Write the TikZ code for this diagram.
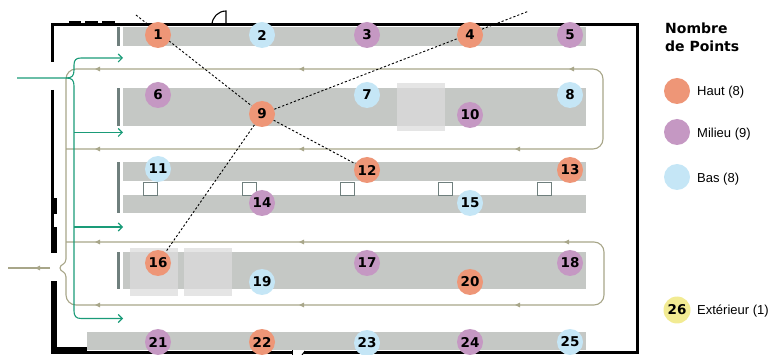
\documentclass[tikz,border=0pt]{standalone}
\usepackage{fontspec}
\setmainfont{Liberation Sans}
\newfontfamily\numfont{DejaVu Sans}
\usetikzlibrary{arrows.meta}
\definecolor{haut}{HTML}{EE9677}
\definecolor{milieu}{HTML}{C598C3}
\definecolor{bas}{HTML}{C5E6F6}
\definecolor{ext}{HTML}{F2EB93}
\definecolor{shelf}{HTML}{C5C8C5}
\definecolor{shelfend}{HTML}{6F7F7D}
\definecolor{olv}{HTML}{A8A689}
\definecolor{grn}{HTML}{1A9B78}
\definecolor{over}{HTML}{DCDCDC}
\pgfdeclarelayer{bg}\pgfdeclarelayer{mid}\pgfsetlayers{bg,mid,main}
\newcommand\olarr[2]{\fill[olv] ({#1-3},#2) -- ({#1+2},{#2-2.4}) -- ({#1+2},{#2+2.4}) -- cycle;}
\begin{document}
\begin{tikzpicture}[x=1pt,y=-1pt,
  pt/.style={circle,minimum size=26pt,inner sep=0pt,font=\numfont\bfseries\fontsize{13.5pt}{14pt}\selectfont},
  hp/.style={pt,fill=haut},
  mp/.style={pt,fill=milieu},
  bp/.style={pt,fill=bas},
  shelfbar/.style={fill=shelf},
  shelfcap/.style={fill=shelfend},
  overlay/.style={fill=over,opacity=0.75},
  bin/.style={draw=shelfend,fill=white,line width=0.9pt},
  wall/.style={line width=3pt,black},
  dashline/.style={black,line width=0.9pt,dash pattern=on 2.2pt off 2pt},
  olvline/.style={olv,line width=1.1pt},
  grnline/.style={grn,line width=1.1pt,-{Straight Barb[length=4pt,width=8pt]}},
  legtitle/.style={anchor=base west,inner sep=0pt,font=\numfont\bfseries\fontsize{14pt}{16pt}\selectfont},
  legtext/.style={anchor=base west,inner sep=0pt,font=\fontsize{13pt}{15pt}\selectfont}]
\useasboundingbox (0,0) rectangle (771,355);

\begin{pgfonlayer}{bg}
% shelves
\fill[shelfbar] (123,27) rectangle (586,46);
\fill[shelfbar] (123,88) rectangle (586,126);
\fill[shelfbar] (123,162) rectangle (586,181);
\fill[shelfbar] (123,195) rectangle (586,213);
\fill[shelfbar] (123,252) rectangle (586,289);
\fill[shelfbar] (87,332) rectangle (586,350);
\fill[shelfcap] (117,27) rectangle (120,46);
\fill[shelfcap] (117,88) rectangle (120,126);
\fill[shelfcap] (117,162) rectangle (120,213);
\fill[shelfcap] (117,252) rectangle (120,289);
\fill[overlay] (397,83) rectangle (445,131);
\fill[overlay] (130,248) rectangle (178,296);
\fill[overlay] (184,248) rectangle (232,296);
\foreach \x in {143,242,340,438,537} \draw[bin] (\x,182) rectangle (\x+14,195);
% walls
\draw[wall] (52,62) -- (52,25) -- (637,25) -- (637,352) -- (304,352);
\draw[wall] (292,352) -- (52,352) -- (52,281);
\draw[wall] (52,90) -- (52,253);
\fill (50.5,198) rectangle (57,214);
\fill (50.5,227) rectangle (57,253);
\fill (50.5,281) rectangle (57,353.5);
\fill (50.5,346.5) rectangle (87,353.5);
\fill (69,21.5) rectangle (81,25);
\fill (85,21.5) rectangle (98,25);
\fill (102,21.5) rectangle (115,25);
\draw[line width=1.1pt] (212,25) arc[start angle=180,end angle=90,radius=14pt] -- (226,25);
\draw[line width=1pt] (292,350) -- (292,355);
\draw[line width=1pt] (305,351) -- (302,355);
% olive circulation
\draw[olvline,rounded corners=10pt] (66,259) -- (66,69) -- (603,69) -- (603,149) -- (66,149);
\draw[olvline] (66,259) .. controls (66,265) and (60,264) .. (60,268) .. controls (60,272) and (66,271) .. (66,277);
\draw[olvline,rounded corners=10pt] (66,277) -- (66,305) -- (604,305) -- (604,242) -- (66,242);
\draw[olvline] (50,268) -- (8,268);
\olarr{38}{268}
\olarr{98}{69} \olarr{302}{69} \olarr{572}{69}
\olarr{98}{149} \olarr{302}{149} \olarr{518}{149}
\olarr{98}{242} \olarr{302}{242} \olarr{567}{242}
\olarr{98}{305} \olarr{302}{305} \olarr{518}{305}
% green entry
\draw[grnline] (17,78) -- (66,78) .. controls (72,78) and (74,76) .. (74,70) -- (74,65) .. controls (74,60) and (76,58) .. (81,58) -- (123,58);
\draw[grnline] (66,78) .. controls (72,78) and (74,80) .. (74,86) -- (74,311) .. controls (74,316) and (76,318.5) .. (81,318.5) -- (123,318.5);
\draw[grnline] (74,132.5) -- (123,132.5);
\draw[grnline] (74,227) -- (123,227);
\end{pgfonlayer}

% points
\node[hp] (p1) at (158,35) {1};
\node[bp] (p2) at (262,35) {2};
\node[mp] (p3) at (367,35) {3};
\node[hp] (p4) at (470,35) {4};
\node[mp] (p5) at (570,35) {5};
\node[mp] (p6) at (158,95) {6};
\node[bp] (p7) at (367,95) {7};
\node[bp] (p8) at (570,95) {8};
\node[hp] (p9) at (262,114) {9};
\node[mp] (p10) at (470,115) {10};
\node[bp] (p11) at (158,169) {11};
\node[hp] (p12) at (367,170) {12};
\node[hp] (p13) at (570,170) {13};
\node[mp] (p14) at (262,203) {14};
\node[bp] (p15) at (470,203) {15};
\node[hp] (p16) at (158,263) {16};
\node[mp] (p17) at (367,263) {17};
\node[mp] (p18) at (570,263) {18};
\node[bp] (p19) at (262,282) {19};
\node[hp] (p20) at (470,282) {20};
\node[mp] (p21) at (158,342) {21};
\node[hp] (p22) at (262,342) {22};
\node[bp] (p23) at (367,343) {23};
\node[mp] (p24) at (470,342) {24};
\node[bp] (p25) at (570,342) {25};

\coordinate (s1) at (136,15);
\coordinate (s4) at (529,11);
\begin{pgfonlayer}{mid}
\draw[dashline] (s1) -- (p9);
\draw[dashline] (p9) -- (s4);
\draw[dashline] (p9) -- (p12);
\draw[dashline] (p9) -- (p16);
\end{pgfonlayer}

% legend
\node[legtitle] (lt1) at (665,34) {Nombre};
\node[legtitle] (lt2) at (665,52) {de Points};
\node[hp] (lh) at (677,91) {};
\node[legtext] (lht) at (697,96) {Haut (8)};
\node[mp] (lm) at (677,132) {};
\node[legtext] (lmt) at (697,137.5) {Milieu (9)};
\node[bp] (lb) at (677,177) {};
\node[legtext] (lbt) at (697,182.5) {Bas (8)};
\node[pt,fill=ext,minimum size=27pt] (p26) at (677,310) {26};
\node[legtext] (let) at (697,314.5) {Extérieur (1)};
\end{tikzpicture}
\end{document}
